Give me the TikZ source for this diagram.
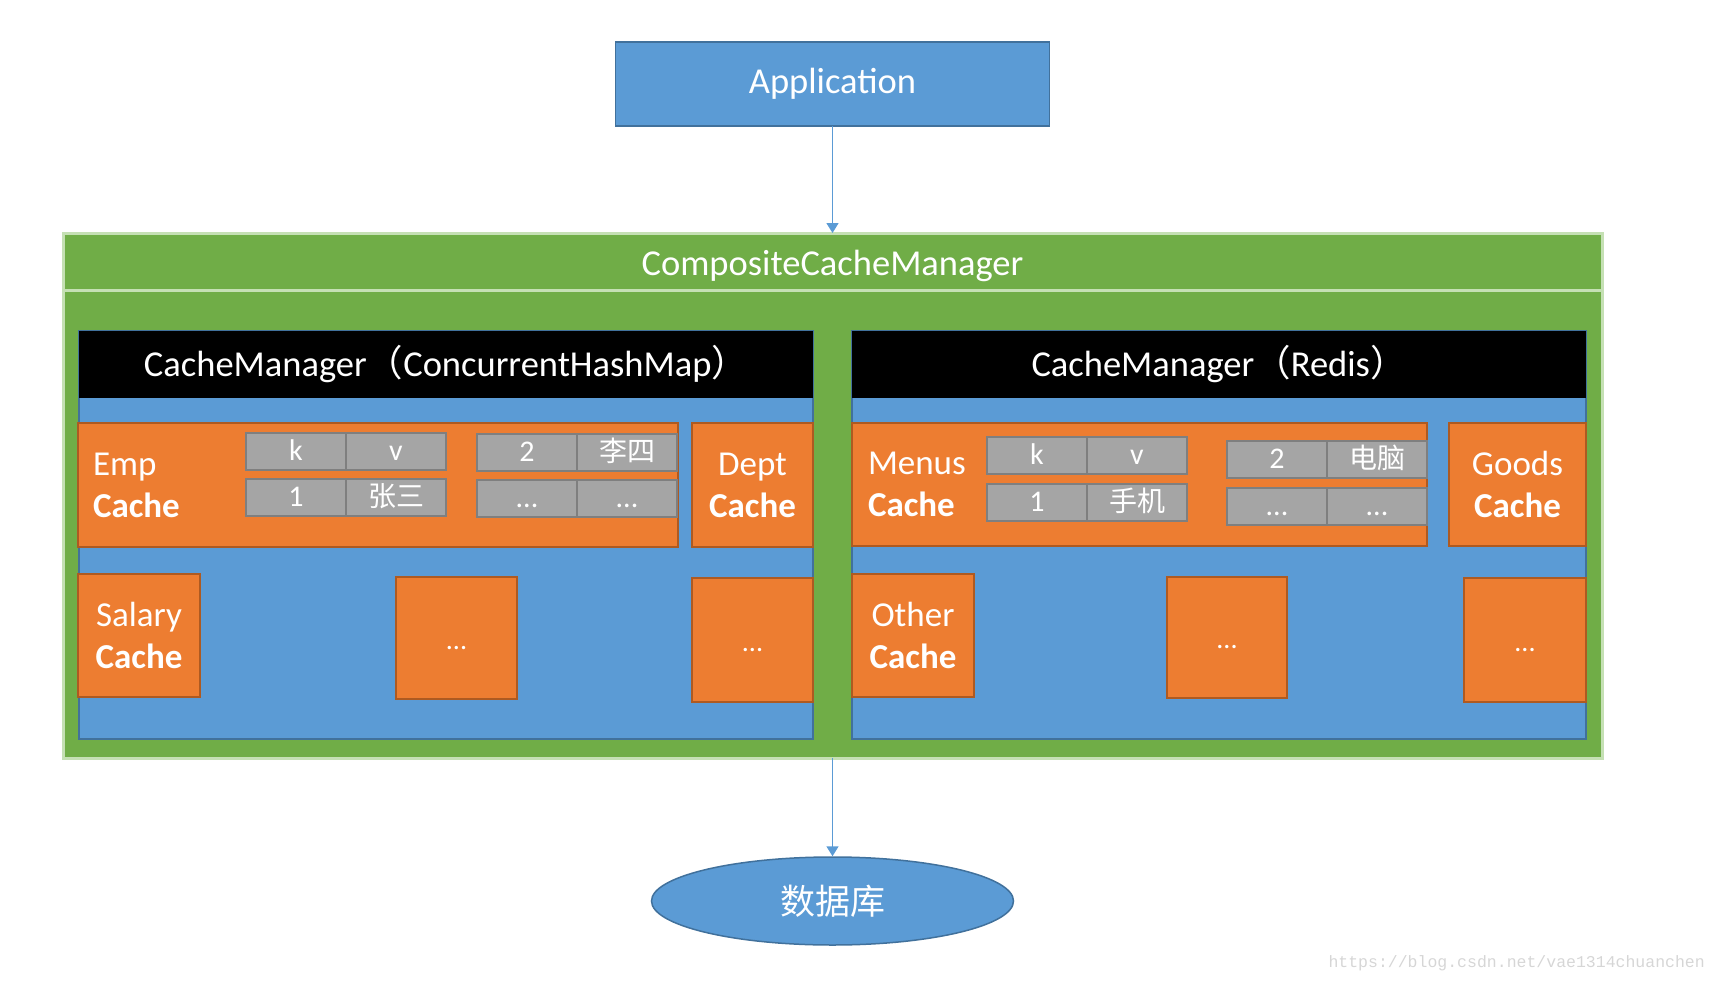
\documentclass[tikz,border=0pt]{standalone}
\usepackage{fontspec}
\setmainfont{Carlito}
\newfontfamily\cjk{Noto Sans CJK SC}
\newfontfamily\urlfont{Liberation Mono}
\usetikzlibrary{shapes.geometric}
\usetikzlibrary{positioning}
\usetikzlibrary{arrows.meta}
\definecolor{appblue}{HTML}{5B9BD5}
\definecolor{appblueline}{HTML}{41719C}
\definecolor{ccmgreen}{HTML}{70AD47}
\definecolor{ccmline}{HTML}{C5E0B4}
\definecolor{cacheorange}{HTML}{ED7D31}
\definecolor{cacheline}{HTML}{AE5A21}
\definecolor{cellgray}{HTML}{A5A5A5}
\definecolor{cellline}{HTML}{7F7F7F}
\newcommand*{\TextSize}{\fontsize{35}{42}\selectfont}
\newcommand*{\HeadSize}{\fontsize{36.5}{42}\selectfont}
\newcommand*{\Zh}[1]{{\cjk\fontsize{28}{30}\selectfont #1}}
\newcommand*{\Dots}{{\fontsize{28}{30}\selectfont\rule[-4pt]{0pt}{30pt}...}}
\tikzset{
    plainbox/.style={
        rectangle,fill=#1,text=white,
        outer sep=0pt,inner sep=0pt,
        font=\TextSize,
        },
    bluebox/.style={plainbox=appblue,draw=appblueline,line width=1.5pt},
    greenbox/.style={plainbox=ccmgreen,draw=ccmline,line width=3pt},
    cachebox/.style={
        plainbox=cacheorange,draw=cacheline,line width=1.5pt,
        minimum width=121pt,minimum height=123pt,
        align=center,
        },
    kvcell/.style={
        plainbox=cellgray,draw=cellline,line width=2pt,
        minimum width=100pt,minimum height=37pt,
        text height=20pt,text depth=2pt,
        font=\fontsize{30}{36}\selectfont,
        },
    flowline/.style={
        draw=appblue,line width=1.5pt,
        -{Triangle[width=12pt,length=10pt]},
        }
    }

\begin{document}
\begin{tikzpicture}[x=1pt,y=-1pt]
    \useasboundingbox (0,0) rectangle (1716,982);
    \node[bluebox,minimum width=434pt,minimum height=84pt,font=\HeadSize] (app) at (832.5,84) {Application};
    % composite manager
    \node[greenbox,anchor=north west,minimum width=1539pt,minimum height=525pt] (ccm) at (63,233) {};
    \node[greenbox,anchor=north,minimum width=1539pt,minimum height=57pt,text height=30pt,text depth=2pt,font=\HeadSize] (ccmhead) at (ccm.north) {CompositeCacheManager};
    \node[bluebox,anchor=north west,minimum width=734pt,minimum height=408pt] (lpanel) at (79,331) {};
    \node[bluebox,minimum width=734pt,minimum height=408pt] (rpanel) [right=39pt of lpanel] {};
    \node[plainbox=black,anchor=north,minimum width=734pt,minimum height=67pt,font=\HeadSize] (lhead) at (lpanel.north) {CacheManager{\cjk （}ConcurrentHashMap{\cjk ）}};
    \node[plainbox=black,anchor=north,minimum width=734pt,minimum height=67pt,font=\HeadSize] (rhead) at (rpanel.north) {CacheManager{\cjk （}Redis{\cjk ）}};
    % left caches
    \node[cachebox,anchor=north west,minimum height=124pt,text width=570pt,inner xsep=15pt,align=left] (emp) at (78,423) {Emp\\\textbf{Cache}};
    \node[cachebox,minimum height=124pt] (dept) [right=14pt of emp] {Dept\\\textbf{Cache}};
    \node[kvcell,anchor=north west] (empk) at (246,433) {k};
    \node[kvcell] (empv) [right=0pt of empk] {v};
    \node[kvcell] (emp1) [below=9pt of empk] {1};
    \node[kvcell] (emp1v) [right=0pt of emp1] {\Zh{张三}};
    \node[kvcell,anchor=north west] (emp2) at (477,434) {2};
    \node[kvcell] (emp2v) [right=0pt of emp2] {\Zh{李四}};
    \node[kvcell] (empn) [below=9pt of emp2] {...};
    \node[kvcell] (empnv) [right=0pt of empn] {...};
    \node[cachebox,anchor=north west,minimum width=122pt] (salary) at (78,574) {Salary\\\textbf{Cache}};
    \node[cachebox,anchor=north west,minimum height=122pt] (lmid) at (396,577) {\Dots};
    \node[cachebox,anchor=north west,minimum height=124pt] (lend) at (692,578) {\Dots};
    % right caches
    \node[cachebox,anchor=north west,text width=543pt,inner xsep=16pt,align=left] (menus) at (852,423) {Menus\\\textbf{Cache}};
    \node[cachebox,minimum width=137pt] (goods) [right=22pt of menus] {Goods\\\textbf{Cache}};
    \node[kvcell,anchor=north west] (menusk) at (987,437) {k};
    \node[kvcell] (menusv) [right=0pt of menusk] {v};
    \node[kvcell] (menus1) [below=10pt of menusk] {1};
    \node[kvcell] (menus1v) [right=0pt of menus1] {\Zh{手机}};
    \node[kvcell,anchor=north west] (menus2) at (1227,441) {2};
    \node[kvcell] (menus2v) [right=0pt of menus2] {\Zh{电脑}};
    \node[kvcell] (menusn) [below=10pt of menus2] {...};
    \node[kvcell] (menusnv) [right=0pt of menusn] {...};
    \node[cachebox,anchor=north west,minimum width=122pt] (other) at (852,574) {Other\\\textbf{Cache}};
    \node[cachebox,anchor=north west,minimum width=120pt,minimum height=121pt] (rmid) at (1167,577) {\Dots};
    \node[cachebox,anchor=north west,minimum width=122pt,minimum height=124pt] (rend) at (1464,578) {\Dots};
    % database
    \node[ellipse,fill=appblue,draw=appblueline,line width=1.5pt,minimum width=362pt,minimum height=88pt,inner sep=0pt,text=white,font=\cjk\TextSize] (db) at (832.5,901) {数据库};
    \draw[flowline] (app.south) -- (ccm.north);
    \draw[flowline] (ccm.south) -- (db.north);
    \node[anchor=base west,text=black!16,font=\urlfont\fontsize{16.5}{18}\selectfont] (mark) at (1325,967) {https://blog.csdn.net/vae1314chuanchen};
\end{tikzpicture}
\end{document}
